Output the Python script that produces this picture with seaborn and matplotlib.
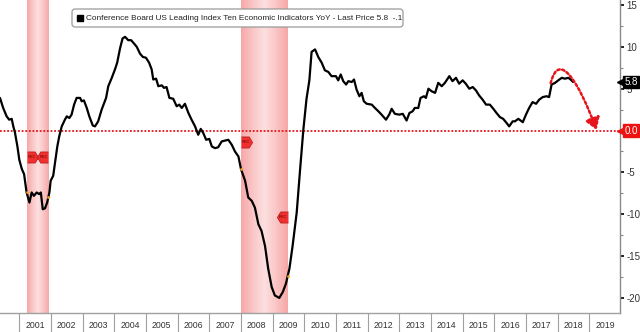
import numpy as np
import pandas as pd
import matplotlib
matplotlib.use("Agg")
import matplotlib.pyplot as plt
import seaborn as sns
from matplotlib.patches import FancyArrowPatch, FancyBboxPatch, Rectangle
from matplotlib.path import Path
from matplotlib.colors import LinearSegmentedColormap
import matplotlib.transforms as mtransforms

# ---------------- data ----------------
dates = [2000.39, 2000.49, 2000.60, 2000.68, 2000.76, 2000.81, 2000.86, 2000.94,
         2001.00, 2001.08, 2001.15, 2001.23, 2001.32, 2001.39, 2001.46, 2001.55,
         2001.63, 2001.68, 2001.74, 2001.81, 2001.88, 2001.95, 2001.99, 2002.07,
         2002.13, 2002.20, 2002.26, 2002.34, 2002.44, 2002.50, 2002.58, 2002.65,
         2002.73, 2002.81, 2002.92, 2002.97, 2003.04, 2003.13, 2003.21, 2003.32,
         2003.39, 2003.49, 2003.60, 2003.74, 2003.81, 2003.92, 2004.02, 2004.09,
         2004.18, 2004.26, 2004.34, 2004.44, 2004.53, 2004.60, 2004.71, 2004.81,
         2004.90, 2005.00, 2005.10, 2005.18, 2005.23, 2005.32, 2005.39, 2005.50,
         2005.57, 2005.65, 2005.74, 2005.86, 2005.97, 2006.05, 2006.13, 2006.23,
         2006.34, 2006.44, 2006.55, 2006.65, 2006.73, 2006.81, 2006.90, 2007.00,
         2007.08, 2007.18, 2007.28, 2007.39, 2007.50, 2007.60, 2007.71, 2007.81,
         2007.92, 2008.00, 2008.13, 2008.23, 2008.34, 2008.44, 2008.55, 2008.65,
         2008.76, 2008.86, 2008.97, 2009.07, 2009.21, 2009.32, 2009.42, 2009.53,
         2009.63, 2009.76, 2009.86, 2009.97, 2010.07, 2010.16, 2010.23, 2010.34,
         2010.44, 2010.55, 2010.65, 2010.76, 2010.86, 2011.00, 2011.07, 2011.15,
         2011.23, 2011.32, 2011.39, 2011.50, 2011.57, 2011.65, 2011.74, 2011.81,
         2011.88, 2011.97, 2012.13, 2012.23, 2012.34, 2012.44, 2012.58, 2012.68,
         2012.76, 2012.86, 2013.00, 2013.11, 2013.23, 2013.32, 2013.42, 2013.49,
         2013.60, 2013.67, 2013.78, 2013.84, 2013.92, 2014.02, 2014.13, 2014.23,
         2014.34, 2014.44, 2014.58, 2014.68, 2014.79, 2014.89, 2015.00, 2015.10,
         2015.21, 2015.32, 2015.42, 2015.52, 2015.63, 2015.74, 2015.86, 2015.97,
         2016.07, 2016.18, 2016.28, 2016.39, 2016.47, 2016.58, 2016.65, 2016.76,
         2016.90, 2017.00, 2017.10, 2017.21, 2017.32, 2017.42, 2017.53, 2017.65,
         2017.73, 2017.81, 2017.92, 2018.02, 2018.13, 2018.23, 2018.34, 2018.41,
         2018.49]
values = [3.9, 2.7, 1.7, 1.3, 1.4, 0.5, -0.2, -1.9,
          -3.5, -4.6, -5.2, -7.4, -8.6, -7.4, -7.8, -7.4,
          -7.6, -7.4, -9.4, -9.3, -8.6, -7.4, -6.0, -5.4,
          -3.8, -1.9, -0.7, 0.5, 1.3, 1.7, 1.5, 1.9,
          3.1, 3.9, 3.9, 3.5, 3.6, 2.7, 1.7, 0.6,
          0.5, 1.1, 2.5, 3.9, 5.3, 6.3, 7.3, 8.1,
          9.8, 11.0, 11.2, 10.8, 10.8, 10.5, 10.0, 9.2,
          8.8, 8.7, 8.1, 7.3, 6.1, 6.2, 5.3, 5.4,
          5.1, 5.2, 3.9, 3.8, 2.9, 3.1, 2.7, 3.2,
          2.1, 1.3, 0.5, -0.5, 0.2, -0.3, -1.1, -1.0,
          -1.9, -2.1, -2.0, -1.3, -1.2, -1.1, -1.7, -2.5,
          -3.1, -4.6, -6.0, -8.0, -8.4, -9.2, -11.2, -12.0,
          -13.8, -16.5, -18.7, -19.7, -20.0, -19.3, -18.3, -16.5,
          -13.8, -9.8, -5.0, 0.1, 3.8, 6.0, 9.4, 9.7,
          8.8, 8.1, 7.2, 7.0, 6.5, 6.5, 6.0, 6.7,
          5.9, 5.5, 5.9, 5.8, 6.1, 4.9, 4.1, 4.5,
          3.5, 3.2, 3.1, 2.7, 2.3, 1.9, 1.3, 1.9,
          2.6, 2.0, 1.9, 2.0, 1.2, 2.1, 2.3, 2.7,
          2.7, 3.9, 4.1, 3.9, 5.0, 4.7, 4.5, 5.7,
          5.3, 5.7, 6.5, 5.9, 6.3, 5.6, 6.0, 5.6,
          5.0, 5.2, 4.8, 4.2, 3.7, 3.1, 3.1, 2.6,
          2.1, 1.6, 1.4, 0.9, 0.5, 1.1, 1.1, 1.4,
          1.0, 1.9, 2.7, 3.4, 3.2, 3.7, 4.0, 4.1,
          4.0, 5.5, 5.7, 6.0, 6.3, 6.2, 6.3, 6.1,
          5.8]

recession_starts = [2001.25, 2008.00]
recession_ends = [2001.92, 2009.47]
rec_marker_levels_start = [-3.1, -1.35]
rec_marker_levels_end = [-3.1, -10.3]
recession_edge_values = [-7.4, -7.9, -4.6, -17.4]

year_labels = [str(y) for y in range(2001, 2020)]
yticks = [-20, -15, -10, -5, 0, 5, 10, 15]
last_price = 5.8
target_level = 0.0
legend_text = "Conference Board US Leading Index Ten Economic Indicators YoY - Last Price 5.8  -.1"

# forecast arrow control points (years, values)
arrow_x = [2017.78, 2018.05, 2018.70, 2019.23]
arrow_y = [5.65, 9.8, 5.5, 0.07]

# ---------------- figure ----------------
sns.set_style("white")
plt.rcParams['font.family'] = ['Liberation Sans', 'DejaVu Sans']
plt.rcParams['axes.unicode_minus'] = False

W, H = 640, 332
fig = plt.figure(figsize=(W / 100, H / 100), dpi=100)
ax = fig.add_axes([0, 19 / H, 620 / W, 313 / H])

xmin, xmax = 2000.39, 2019.97
ymin, ymax = -21.8, 15.6

# recession bands with gradient
cmap = LinearSegmentedColormap.from_list(
    "band", ["#f7a8a8", "#fac6c6", "#fde0e0", "#fac6c6", "#f7a8a8"])
grad = np.linspace(0, 1, 64).reshape(1, -1)
for s, e in zip(recession_starts, recession_ends):
    ax.imshow(grad, extent=[s, e, ymin, ymax], aspect='auto', cmap=cmap,
              zorder=0, interpolation='bilinear')

# zero line
ax.axhline(target_level, color='#e8141b', lw=1.3, ls=(0, (1, 1)), zorder=1)

df = pd.DataFrame({"date": dates, "value": values})
sns.lineplot(data=df, x="date", y="value", ax=ax, color='black', lw=1.6,
             zorder=3, estimator=None, sort=False)

# small orange dots at recession edges
edge_x = [recession_starts[0], recession_ends[0], recession_starts[1], recession_ends[1]]
ax.scatter(edge_x, recession_edge_values, s=4, color='#e8a020', zorder=4, lw=0)

# REC markers
right_verts = [(0, -1), (1.4, -1), (2, 0), (1.4, 1), (0, 1)]
left_verts = [(0, -1), (-1.4, -1), (-2, 0), (-1.4, 1), (0, 1)]
for s, lv in zip(recession_starts, rec_marker_levels_start):
    ax.plot([s], [lv], marker=right_verts, ms=16, color='#f03030',
            mec='#b01818', mew=0.5, zorder=5, ls='none')
    ax.annotate("REC", (s, lv), xytext=(3.6, 0), textcoords='offset points',
                fontsize=2.8, color='#5a0000', ha='center', va='center', zorder=6)
for e, lv in zip(recession_ends, rec_marker_levels_end):
    ax.plot([e], [lv], marker=left_verts, ms=16, color='#f03030',
            mec='#b01818', mew=0.5, zorder=5, ls='none')
    ax.annotate("REC", (e, lv), xytext=(-3.6, 0), textcoords='offset points',
                fontsize=2.8, color='#5a0000', ha='center', va='center', zorder=6)

# forecast arrow
path = Path(list(zip(arrow_x, arrow_y)),
            [Path.MOVETO, Path.CURVE4, Path.CURVE4, Path.CURVE4])
arrow = FancyArrowPatch(path=path, arrowstyle='-|>,head_length=0.7,head_width=0.45',
                        mutation_scale=10, color='#e8141b', lw=1.8,
                        linestyle=(0, (1, 1)), zorder=6)
ax.add_patch(arrow)

ax.set_xlim(xmin, xmax)
ax.set_ylim(ymin, ymax)
ax.set_xlabel("")
ax.set_ylabel("")

# spines
for side in ["top", "left"]:
    ax.spines[side].set_visible(False)
ax.spines["right"].set_color("#8a8a8a")
ax.spines["bottom"].set_color("#a0a0a0")
ax.spines["right"].set_linewidth(1.0)
ax.spines["bottom"].set_linewidth(1.0)

# x axis: separators at year boundaries, labels in the middle
ax.set_xticks(np.arange(2001, 2020))
ax.set_xticklabels([])
ax.set_xticks(np.arange(2001, 2020) + 0.5, minor=True)
ax.set_xticklabels(year_labels, minor=True)
ax.tick_params(axis='x', which='major', direction='out', length=14, width=0.8,
               color='#a0a0a0', bottom=True)
ax.tick_params(axis='x', which='minor', length=0, pad=6, labelsize=6.3,
               labelcolor='#333333', bottom=True)

# y axis on right
ax.yaxis.tick_right()
ax.set_yticks(yticks)
ax.set_yticklabels([str(t) if t != 0 else "" for t in yticks])
ax.set_yticks(np.arange(-20, 15.1, 2.5), minor=True)
ax.tick_params(axis='y', which='major', direction='out', length=3, width=1.4,
               color='#222222', labelsize=7, labelcolor='#333333', pad=1.5,
               right=True, left=False)
ax.tick_params(axis='y', which='minor', direction='out', length=2.5, width=0.8,
               color='#888888', right=True, left=False)
ax.grid(False)

# right-side value boxes
trans = mtransforms.blended_transform_factory(ax.transAxes, ax.transData)
for val, fc in [(last_price, 'black'), (target_level, '#ee1111')]:
    ax.plot([1.0], [val], marker='<', ms=4.5, color=fc, transform=trans,
            clip_on=False, zorder=7, ls='none')
    ax.annotate(f"{val:.1f}", (1.0, val), xycoords=trans, xytext=(3, 0),
                textcoords='offset points', ha='left', va='center',
                fontsize=7, color='white',
                bbox=dict(boxstyle='square,pad=0.12', fc=fc, ec=fc),
                annotation_clip=False, zorder=8)

# legend box (pixel layout, origin bottom-left)
ident = mtransforms.IdentityTransform()
box = FancyBboxPatch((72, H - 27), 331, 18,
                     boxstyle='round,pad=0,rounding_size=3',
                     fc='white', ec='#9a9a9a', lw=0.9, transform=ident, zorder=9)
fig.patches.append(box)
sq = Rectangle((77, H - 21), 6, 6, fc='black', ec='black', transform=ident, zorder=10)
fig.patches.append(sq)
fig.text(86, H - 18, legend_text, transform=ident, ha='left', va='center',
         fontsize=5.95, color='#222222', zorder=11)

fig.savefig("out.png", dpi=100)
